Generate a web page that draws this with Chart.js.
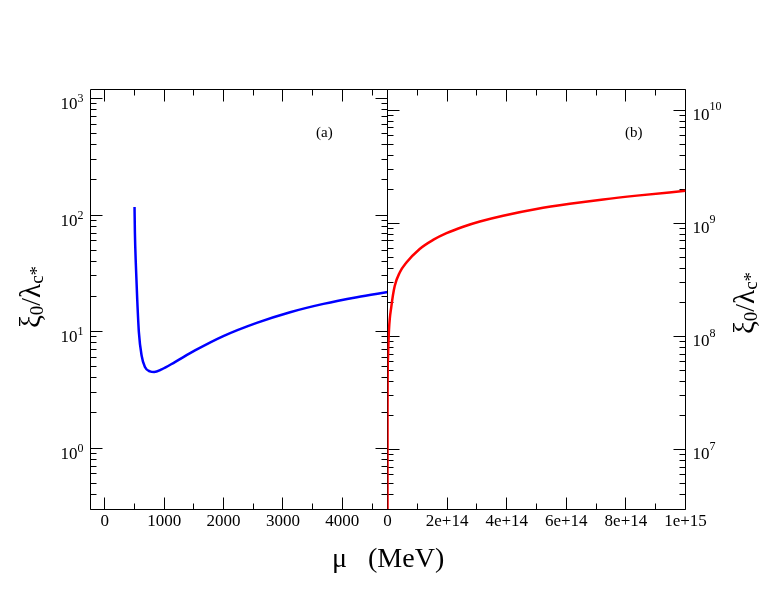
<!DOCTYPE html>
<html>
<head>
<meta charset="utf-8">
<script src="https://cdn.jsdelivr.net/npm/chart.js@4.4.0/dist/chart.umd.min.js"></script>
<style>
  body { margin: 0; background: #fff; }
  #wrap { position: relative; width: 776px; height: 599px; }
  #wrap canvas { position: absolute; left: 0; top: 0; }
</style>
</head>
<body>
<div id="wrap">
  <canvas id="chartA" width="776" height="599"></canvas>
  <canvas id="chartB" width="776" height="599"></canvas>
</div>
<script>
// Panel (a): mu in MeV, low range
const muA = [500, 506, 523, 545, 573, 619, 675, 759, 831, 956, 1180, 1518, 1995, 2558, 3120, 3681, 4245, 4764];
const ratioA = [117, 71, 36.7, 19.05, 9.9, 6.23, 4.96, 4.55, 4.49, 4.73, 5.47, 6.88, 9.14, 11.87, 14.65, 17.27, 19.7, 21.8];

// Panel (b): mu in MeV, huge range
const muB = [1e9, 1e10, 1e11, 5e11, 1.7e12, 5e12, 1.31e13, 2.42e13, 4.1e13, 6.35e13, 1.08e14, 1.53e14, 1.98e14, 2.54e14, 3.1e14, 3.88e14, 5.0e14, 6.12e14, 7.24e14, 8.37e14, 1e15];
const ratioB = [2e6, 6e6, 2e7, 4.3e7, 6.5e7, 1.15e8, 1.86e8, 2.8e8, 3.68e8, 4.51e8, 5.95e8, 7.15e8, 8.2e8, 9.35e8, 1.04e9, 1.17e9, 1.34e9, 1.49e9, 1.63e9, 1.76e9, 1.94e9];

// Tick values and labels
const xTicksA = [0, 1000, 2000, 3000, 4000];
const xLabelsA = ['0', '1000', '2000', '3000', '4000'];
const xMinorA = [500, 1500, 2500, 3500, 4500];
const xTicksB = [0, 2e14, 4e14, 6e14, 8e14, 1e15];
const xLabelsB = ['0', '2e+14', '4e+14', '6e+14', '8e+14', '1e+15'];
const xMinorB = [1e14, 3e14, 5e14, 7e14, 9e14];
const yTicksA = [1, 10, 100, 1000];
const yExpA = ['0', '1', '2', '3'];
const yTicksB = [1e7, 1e8, 1e9, 1e10];
const yExpB = ['7', '8', '9', '10'];

const SERIF = '"Liberation Serif", "Times New Roman", serif';

function logMinors(min, max) {
    const out = [];
    for (let d = Math.floor(Math.log10(min)); d <= Math.ceil(Math.log10(max)); d++) {
        for (let m = 2; m <= 9; m++) {
            const v = m * Math.pow(10, d);
            if (v > min && v < max) out.push(v);
        }
    }
    return out;
}

const snap = v => Math.floor(v) + 0.5;

// Frame with inward ticks on all four sides
const frameTicks = {
    id: 'frameTicks',
    beforeDatasetsDraw(chart, args, opts) {
        const { ctx, chartArea: a, scales } = chart;
        const xs = scales.x, ys = scales.y;
        const L = snap(a.left), R = snap(a.right), T = snap(a.top), B = snap(a.bottom);
        ctx.save();
        ctx.strokeStyle = '#000';
        ctx.lineWidth = 1;
        ctx.beginPath();
        ctx.rect(L, T, R - L, B - T);
        const xt = (v, len) => {
            const p = snap(xs.getPixelForValue(v));
            ctx.moveTo(p, B); ctx.lineTo(p, B - len);
            ctx.moveTo(p, T); ctx.lineTo(p, T + len);
        };
        const yt = (v, len) => {
            const p = snap(ys.getPixelForValue(v));
            ctx.moveTo(L, p); ctx.lineTo(L + len, p);
            ctx.moveTo(R, p); ctx.lineTo(R - len, p);
        };
        opts.xMajor.forEach(v => xt(v, 12));
        opts.xMinor.forEach(v => xt(v, 6));
        opts.yMajor.forEach(v => yt(v, 12));
        logMinors(ys.min, ys.max).forEach(v => yt(v, 6));
        ctx.stroke();
        ctx.restore();
    },
    afterDraw(chart, args, opts) {
        const { ctx, chartArea: a, scales } = chart;
        const ys = scales.y;
        ctx.save();
        ctx.fillStyle = '#000';
        ctx.textBaseline = 'alphabetic';
        ctx.textAlign = 'left';
        // powers of ten
        opts.yMajor.forEach((v, i) => {
            const p = ys.getPixelForValue(v);
            ctx.font = '17px ' + SERIF;
            const wb = ctx.measureText('10').width;
            ctx.font = '12px ' + SERIF;
            const we = ctx.measureText(opts.yExp[i]).width;
            let x0;
            let baseDy, expDy;
            if (opts.side === 'left') {
                x0 = a.left - 6.5 - wb - we;
                baseDy = 10.5; expDy = 3.5;
            } else {
                x0 = a.right + 7;
                baseDy = 9.5; expDy = 0;
            }
            ctx.font = '17px ' + SERIF;
            ctx.fillText('10', x0, p + baseDy);
            ctx.font = '12px ' + SERIF;
            ctx.fillText(opts.yExp[i], x0 + wb, p + expDy);
        });
        // panel tag
        ctx.font = '15px ' + SERIF;
        ctx.fillText(opts.tag, opts.tagX, 137);
        // axis titles
        drawRatioTitle(ctx, opts.titleX, opts.titleY);
        if (opts.xTitle) {
            ctx.font = '28px ' + SERIF;
            ctx.textAlign = 'left';
            ctx.fillText('\u03BC   (MeV)', 332, 567);
        }
        ctx.restore();
    }
};

// xi_0 / lambda_{c*}, rotated, reading upward
function drawRatioTitle(ctx, baseX, centerY) {
    const parts = [
        { t: '\u03BE', size: 29, dy: 0 },
        { t: '0', size: 19, dy: 3 },
        { t: '/', size: 28, dy: 0 },
        { t: '\u03BB', size: 29, dy: 0 },
        { t: 'c', size: 19, dy: 3 },
        { t: '*', size: 19, dy: 3 }
    ];
    let total = 0;
    parts.forEach(p => {
        ctx.font = p.size + 'px ' + SERIF;
        p.w = ctx.measureText(p.t).width;
        total += p.w;
    });
    ctx.save();
    ctx.translate(baseX, centerY);
    ctx.rotate(-Math.PI / 2);
    ctx.textAlign = 'left';
    ctx.textBaseline = 'alphabetic';
    let u = -total / 2;
    parts.forEach(p => {
        ctx.font = p.size + 'px ' + SERIF;
        ctx.fillText(p.t, u, p.dy);
        u += p.w;
    });
    ctx.restore();
}

function xAxis(min, max, ticks, labels) {
    return {
        type: 'linear',
        min: min,
        max: max,
        grid: { display: false, drawTicks: false },
        border: { display: false },
        afterBuildTicks: s => { s.ticks = ticks.map(v => ({ value: v })); },
        afterFit: s => { s.height = 90; },
        ticks: {
            autoSkip: false,
            maxRotation: 0,
            padding: 2,
            color: '#000',
            font: { family: SERIF, size: 17 },
            callback: (v, i) => labels[i]
        }
    };
}

function yAxis(min, max, pos, width) {
    return {
        type: 'logarithmic',
        position: pos,
        min: min,
        max: max,
        grid: { display: false, drawTicks: false },
        border: { display: false },
        ticks: { display: false },
        afterFit: s => { s.width = width; }
    };
}

function baseOptions() {
    return {
        responsive: false,
        animation: false,
        events: [],
        plugins: { legend: { display: false }, tooltip: { enabled: false } },
        elements: { point: { radius: 0 } }
    };
}

const optsA = baseOptions();
optsA.layout = { padding: { top: 89, right: 388.5, left: 0, bottom: 0 } };
optsA.scales = { x: xAxis(-250, 4760, xTicksA, xLabelsA), y: yAxis(0.308, 1206, 'left', 90) };
optsA.plugins.frameTicks = {
    xMajor: xTicksA, xMinor: xMinorA, yMajor: yTicksA, yExp: yExpA,
    side: 'left', tag: '(a)', tagX: 316, titleX: 40, titleY: 297, xTitle: false
};

new Chart(document.getElementById('chartA'), {
    type: 'line',
    data: {
        datasets: [{
            data: muA.map((m, i) => ({ x: m, y: ratioA[i] })),
            borderColor: '#0000ff',
            borderWidth: 2.5,
            cubicInterpolationMode: 'monotone',
            fill: false
        }]
    },
    options: optsA,
    plugins: [frameTicks]
});

const optsB = baseOptions();
optsB.layout = { padding: { top: 89, right: 0, left: 387.5, bottom: 0 } };
optsB.scales = { x: xAxis(0, 1e15, xTicksB, xLabelsB), y: yAxis(3.0e6, 1.54e10, 'right', 90.5) };
optsB.plugins.frameTicks = {
    xMajor: xTicksB, xMinor: xMinorB, yMajor: yTicksB, yExp: yExpB,
    side: 'right', tag: '(b)', tagX: 625, titleX: 754, titleY: 303, xTitle: true
};

new Chart(document.getElementById('chartB'), {
    type: 'line',
    data: {
        datasets: [{
            data: muB.map((m, i) => ({ x: m, y: ratioB[i] })),
            borderColor: '#ff0000',
            borderWidth: 2.5,
            cubicInterpolationMode: 'monotone',
            fill: false
        }]
    },
    options: optsB,
    plugins: [frameTicks]
});
</script>
</body>
</html>
